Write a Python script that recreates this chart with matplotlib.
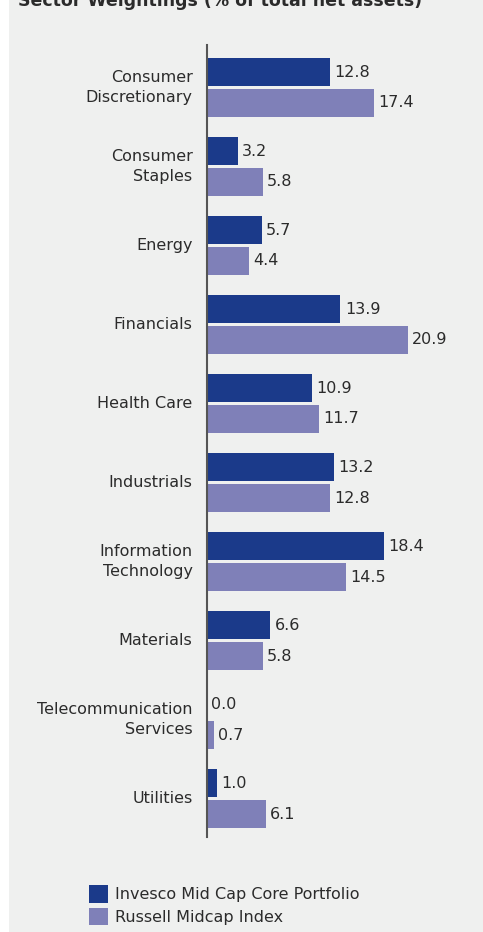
import matplotlib.pyplot as plt
from matplotlib.patches import Rectangle
import numpy as np

categories = ["Consumer\nDiscretionary", "Consumer\nStaples", "Energy", "Financials",
              "Health Care", "Industrials", "Information\nTechnology", "Materials",
              "Telecommunication\nServices", "Utilities"]
portfolio = [12.8, 3.2, 5.7, 13.9, 10.9, 13.2, 18.4, 6.6, 0.0, 1.0]
index = [17.4, 5.8, 4.4, 20.9, 11.7, 12.8, 14.5, 5.8, 0.7, 6.1]
series_names = ["Invesco Mid Cap Core Portfolio", "Russell Midcap Index"]

dark = "#1b3a8a"
light = "#7f80b8"
bg = "#eff0ef"
txt = "#2b2b2b"
fs = 11.5

W, H = 483, 932
fig = plt.figure(figsize=(W / 100, H / 100), dpi=100)
fig.patch.set_facecolor("white")
fig.add_artist(Rectangle((9 / W, 0), 1, 1, transform=fig.transFigure,
                         facecolor=bg, edgecolor="none", zorder=-10))

# heading, cut off at the top edge as in the original
fig.text(18 / W, 1 - 6 / H, "Sector Weightings (% of total net assets)",
         fontsize=12.5, fontweight="bold", color=txt, va="baseline", ha="left")

x0, x1 = 207, 475
y_top, y_bot = 45, 837
ax = fig.add_axes([x0 / W, (H - y_bot) / H, (x1 - x0) / W, (y_bot - y_top) / H])
ax.set_facecolor("none")
scale = 9.6  # px per unit
ax.set_xlim(0, (x1 - x0) / scale)
ax.set_ylim(9.487, -0.538)

y = np.arange(len(categories))
h = 0.36
off = 0.196
b1 = ax.barh(y - off, portfolio, height=h, color=dark, label=series_names[0])
b2 = ax.barh(y + off, index, height=h, color=light, label=series_names[1])

for yy, v in zip(y - off, portfolio):
    ax.text(v + 0.45, yy, f"{v:.1f}", va="center", ha="left", fontsize=fs, color=txt)
for yy, v in zip(y + off, index):
    ax.text(v + 0.45, yy, f"{v:.1f}", va="center", ha="left", fontsize=fs, color=txt)

for yy, c in zip(y, categories):
    ax.text(-1.5, yy, c, va="center", ha="right", fontsize=fs, color=txt,
            linespacing=1.35)

for s in ["top", "right", "bottom"]:
    ax.spines[s].set_visible(False)
ax.spines["left"].set_color("#555555")
ax.spines["left"].set_linewidth(1.5)
ax.set_xticks([])
ax.set_yticks([])

fig.legend(handles=[b1, b2], loc="upper left", bbox_to_anchor=(83 / W, 1 - 879 / H),
           frameon=False, fontsize=fs, handlelength=1.15, handleheight=1.3,
           handletextpad=0.45, labelspacing=0.3, borderaxespad=0, labelcolor=txt)

fig.savefig("out.png", dpi=100, facecolor=fig.get_facecolor())
